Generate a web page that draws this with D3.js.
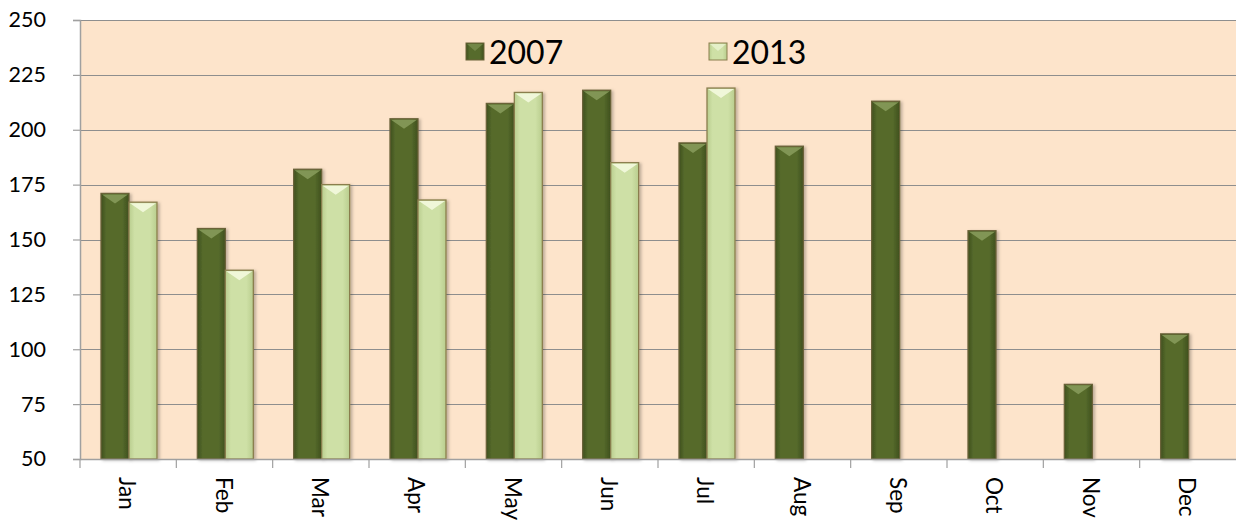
<!DOCTYPE html>
<html>
<head>
<meta charset="utf-8">
<script src="https://cdn.jsdelivr.net/npm/d3@7"></script>
<style>
  html, body { margin: 0; padding: 0; background: #ffffff; }
  svg { display: block; font-family: Lato, "Open Sans", sans-serif; }
</style>
</head>
<body>
<svg id="chart" width="1236" height="523"></svg>
<script>
// Monthly values for the two years (null = no value yet)
const months = ["Jan", "Feb", "Mar", "Apr", "May", "Jun", "Jul", "Aug", "Sep", "Oct", "Nov", "Dec"];
const series = ["2007", "2013"];
const values2007 = [171, 155, 182, 205, 212, 218, 194, 192.5, 213, 154, 84, 107];
const values2013 = [167, 136, 175, 168, 217, 185, 219, null, null, null, null, null];
const yTicks = [50, 75, 100, 125, 150, 175, 200, 225, 250];

const W = 1236, H = 523;
const margin = { left: 80, right: 0, top: 20, bottom: 64 };
const svg = d3.select("#chart");

const x0 = d3.scaleBand().domain(months).range([margin.left, W - margin.right]).padding(0);
const x1 = d3.scaleBand().domain(series).range([21, 77]).padding(0);
const y = d3.scaleLinear().domain([50, 250]).range([H - margin.bottom, margin.top]);

// Plot background
svg.append("rect")
  .attr("x", margin.left).attr("y", margin.top)
  .attr("width", W - margin.right - margin.left)
  .attr("height", y(50) - y(250))
  .attr("fill", "#FDE4CB");

// Gradients giving the bars their bevelled look
const defs = svg.append("defs");
const fills = {
  "2007": { edge: "#3F501D", mid: "#566B2C", tri: "#869A5A", stroke: "#6A6239" },
  "2013": { edge: "#B9CD8E", mid: "#CEE0A6", tri: "#F4FADF", stroke: "#8A7E4E" }
};
series.forEach(s => {
  const g = defs.append("linearGradient").attr("id", "g" + s)
    .attr("x1", "0").attr("x2", "1").attr("y1", "0").attr("y2", "0");
  g.append("stop").attr("offset", "0").attr("stop-color", fills[s].edge);
  g.append("stop").attr("offset", "0.2").attr("stop-color", fills[s].mid);
  g.append("stop").attr("offset", "0.75").attr("stop-color", fills[s].mid);
  g.append("stop").attr("offset", "1").attr("stop-color", fills[s].edge);
});
const shadow = defs.append("filter").attr("id", "shadow")
  .attr("x", "-20%").attr("y", "-5%").attr("width", "150%").attr("height", "115%");
shadow.append("feDropShadow").attr("dx", 2).attr("dy", 1).attr("stdDeviation", 1.5)
  .attr("flood-color", "#000").attr("flood-opacity", 0.25);

// Horizontal gridlines
svg.append("g")
  .selectAll("line")
  .data(yTicks)
  .join("line")
  .attr("x1", margin.left).attr("x2", W - margin.right)
  .attr("y1", d => Math.round(y(d)) + 0.5).attr("y2", d => Math.round(y(d)) + 0.5)
  .attr("stroke", "#8E8E8E").attr("stroke-width", 1.2);

// Bars
const rows = months.map((m, i) => ({ month: m, vals: [
  { key: "2007", v: values2007[i] },
  { key: "2013", v: values2013[i] }
].filter(d => d.v != null) }));

const groups = svg.append("g").selectAll("g")
  .data(rows)
  .join("g")
  .attr("transform", d => `translate(${x0(d.month)},0)`);

const bars = groups.selectAll("g.bar")
  .data(d => d.vals)
  .join("g").attr("class", "bar");

bars.append("rect")
  .attr("x", d => x1(d.key))
  .attr("y", d => y(d.v))
  .attr("width", x1.bandwidth())
  .attr("height", d => y(50) - y(d.v))
  .attr("fill", d => `url(#g${d.key})`)
  .attr("stroke", d => fills[d.key].stroke)
  .attr("stroke-width", 1.3)
  .attr("filter", "url(#shadow)");

// Top bevel triangle
bars.append("path")
  .attr("d", d => {
    const xl = x1(d.key) + 1, xr = x1(d.key) + x1.bandwidth() - 1, t = y(d.v) + 1;
    const xm = (xl + xr) / 2;
    return `M${xl},${t} L${xr},${t} L${xm},${t + 9} Z`;
  })
  .attr("fill", d => fills[d.key].tri)
  .attr("opacity", 0.9);

// Left value axis
const yAxis = svg.append("g")
  .attr("transform", `translate(${margin.left},0)`)
  .call(d3.axisLeft(y).tickValues(yTicks).tickSize(7).tickPadding(27));
yAxis.select(".domain").attr("stroke", "#A0A0A0").attr("stroke-width", 1.5);
yAxis.selectAll(".tick line").attr("stroke", "#A0A0A0").attr("stroke-width", 1.2);
yAxis.selectAll(".tick text")
  .attr("fill", "#000").attr("font-size", 21.5).attr("font-family", "Lato, sans-serif");

// Bottom category axis
const xAxis = svg.append("g")
  .attr("transform", `translate(0,${y(50)})`)
  .call(d3.axisBottom(x0).tickSize(0).tickFormat(""));
xAxis.select(".domain").attr("stroke", "#A0A0A0").attr("stroke-width", 1.5);

// Boundary ticks between months
svg.append("g").selectAll("line")
  .data(months)
  .join("line")
  .attr("x1", d => x0(d)).attr("x2", d => x0(d))
  .attr("y1", y(50)).attr("y2", y(50) + 9)
  .attr("stroke", "#A0A0A0").attr("stroke-width", 1.2);

// Rotated month labels
svg.append("g").selectAll("text")
  .data(months)
  .join("text")
  .attr("transform", d => `translate(${x0(d) + x0.bandwidth() / 2 - 1},${y(50) + 18}) rotate(90)`)
  .attr("dy", "0.35em")
  .attr("text-anchor", "start")
  .attr("font-size", 22.5)
  .attr("fill", "#000")
  .text(d => d);

// Legend
const legendX = { "2007": 466, "2013": 709 };
const leg = svg.append("g").selectAll("g")
  .data(series)
  .join("g")
  .attr("transform", d => `translate(${legendX[d]},43)`);
leg.append("rect")
  .attr("width", 18).attr("height", 17)
  .attr("fill", d => `url(#g${d})`)
  .attr("stroke", d => fills[d].stroke).attr("stroke-width", 1);
leg.append("path")
  .attr("d", "M1,1 L17,1 L9,8 Z")
  .attr("fill", d => fills[d].tri).attr("opacity", 0.6);
leg.append("text")
  .attr("x", 23).attr("y", 9)
  .attr("dy", "0.36em")
  .attr("font-size", 32)
  .attr("fill", "#000")
  .text(d => d);
</script>
</body>
</html>
